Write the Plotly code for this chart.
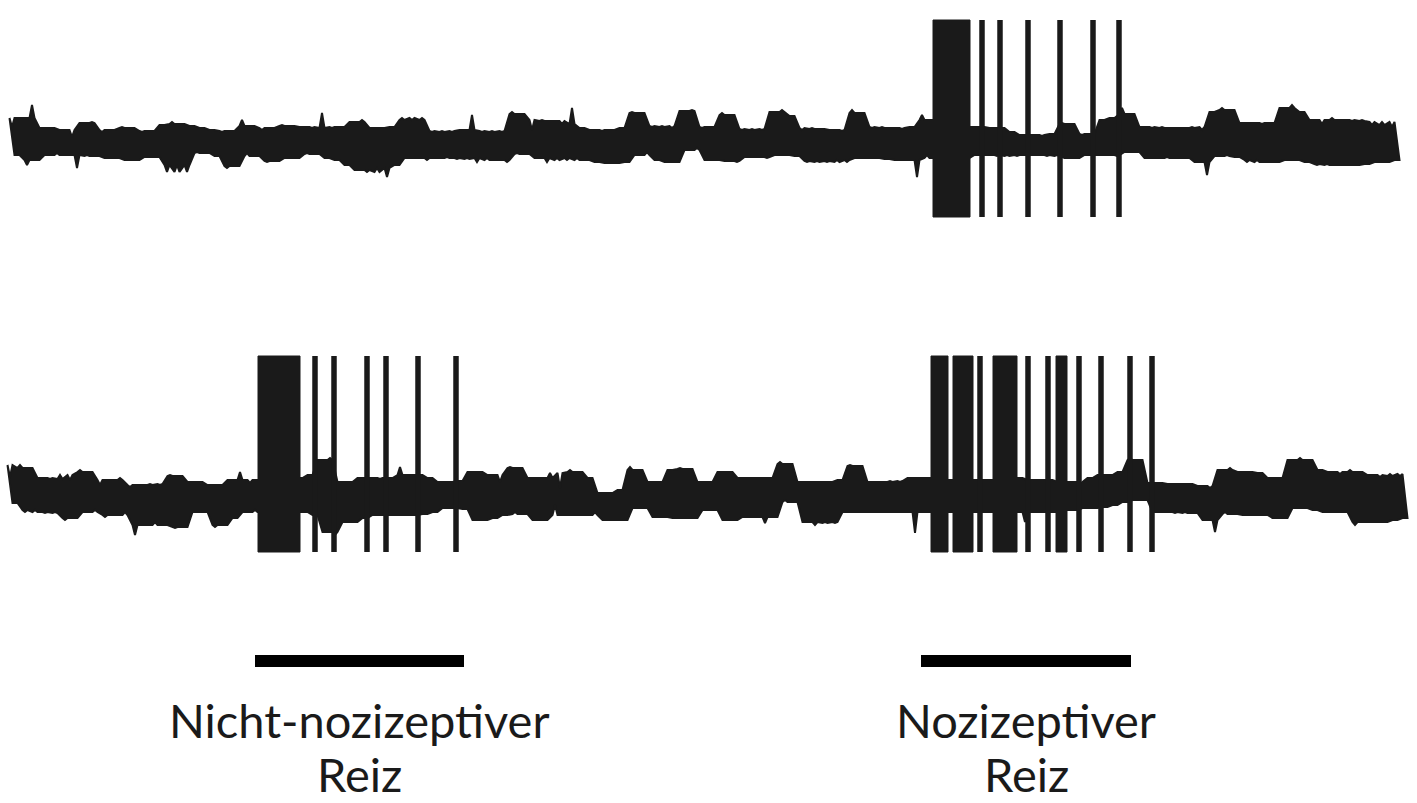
import plotly.graph_objects as go

# ---------------- data (time in ms, potential in µV, arbitrary baseline 0) ----------------
SAMPLE_STEP = 5  # ms between alternating peak/trough samples

top_start = 12
top_peaks = [15, 24, 37, 14, 14, 12, 5, 19, 20, 10,
             12, 15, 14, 10, 11, 17, 20, 18, 16, 14,
             12, 10, 11, 22, 16, 12, 14, 17, 16, 15,
             14, 29, 14, 15, 20, 22, 14, 14, 15, 24,
             22, 24, 10, 11, 10, 12, 27, 10, 11, 10,
             30, 28, 12, 22, 21, 18, 34, 14, 12, 11,
             12, 14, 30, 29, 15, 16, 14, 31, 32, 14,
             15, 29, 27, 12, 13, 12, 30, 32, 26, 12,
             14, 13, 12, 11, 32, 29, 14, 15, 14, 13,
             15, 27, 22, 20, 18, 16, 15, 15, 14, 14,
             10, 7, 7, 6, 8, 19, 18, 7, 8, 22,
             24, 34, 28, 15, 14, 15, 14, 14, 15, 12,
             30, 34, 32, 19, 19, 18, 19, 34, 37, 30,
             22, 18, 24, 22, 21, 22, 17, 20, 15]
top_troughs = [-13, -23, -18, -13, -11, -13, -26, -13, -14, -16,
               -16, -18, -18, -15, -15, -30, -23, -30, -10, -11,
               -14, -26, -24, -11, -14, -20, -19, -16, -16, -11,
               -12, -16, -18, -23, -28, -30, -26, -35, -23, -16,
               -16, -18, -16, -15, -17, -16, -20, -16, -18, -20,
               -11, -12, -16, -20, -16, -18, -16, -18, -20, -21,
               -21, -20, -13, -10, -18, -20, -20, -8, -6, -18,
               -18, -19, -20, -15, -15, -16, -13, -13, -14, -20,
               -19, -20, -18, -20, -16, -16, -16, -17, -18, -18,
               -35, -13, -16, -16, -16, -16, -13, -13, -14, -13,
               -14, -13, -13, -14, -13, -16, -16, -13, -13, -13,
               -14, -10, -10, -16, -16, -15, -16, -16, -20, -33,
               -14, -13, -15, -20, -18, -20, -20, -18, -18, -20,
               -23, -22, -23, -23, -23, -22, -20, -20, -18]

bot_start = 10
bot_peaks = [18, 30, 27, 17, 16, 20, 15, 25, 23, 10,
             15, 17, 8, 10, 11, 10, 20, 19, 13, 13,
             10, 10, 15, 23, 12, 15, 15, 15, 15, 17,
             20, 35, 37, 13, 13, 17, 17, 16, 17, 28,
             20, 20, 17, 13, 13, 14, 23, 23, 20, 13,
             28, 27, 17, 17, 22, 7, 25, 23, 17, 2,
             2, 5, 28, 25, 13, 13, 25, 27, 26, 13,
             13, 23, 23, 17, 17, 17, 17, 33, 31, 13,
             13, 13, 13, 15, 30, 29, 13, 13, 14, 13,
             17, 17, 17, 17, 15, 15, 17, 13, 15, 15,
             17, 17, 15, 15, 15, 13, 13, 10, 17, 20,
             20, 23, 37, 35, 12, 12, 11, 11, 11, 9,
             7, 25, 27, 23, 23, 22, 17, 17, 35, 37,
             35, 25, 23, 21, 25, 23, 20, 18, 21, 19]
bot_troughs = [-8, -17, -15, -18, -17, -25, -23, -17, -15, -22,
               -20, -17, -40, -30, -27, -30, -33, -32, -17, -17,
               -32, -30, -23, -17, -15, -17, -17, -17, -17, -17,
               -20, -37, -40, -27, -27, -23, -20, -20, -20, -20,
               -20, -19, -17, -13, -13, -14, -25, -25, -23, -20,
               -17, -19, -25, -25, -10, -20, -20, -20, -17, -25,
               -25, -25, -13, -13, -22, -22, -23, -23, -23, -15,
               -15, -25, -25, -22, -22, -28, -22, -5, -7, -27,
               -30, -27, -28, -17, -17, -17, -17, -17, -17, -17,
               -38, -17, -17, -17, -15, -17, -17, -17, -17, -17,
               -17, -27, -17, -17, -17, -15, -15, -13, -13, -12,
               -10, -7, -5, -5, -17, -17, -18, -17, -18, -25,
               -37, -17, -19, -20, -20, -20, -23, -23, -13, -13,
               -15, -17, -17, -17, -30, -27, -27, -27, -25, -23]

# action potentials (ms) and high-frequency bursts (start, end ms)
top_spikes = [982, 1000, 1028, 1060, 1093, 1119]
top_bursts = [(933, 970)]
bot_spikes = [315, 334, 367, 386, 418, 456, 980, 1028, 1048, 1079, 1101, 1130, 1152]
bot_bursts = [(258, 300), (931, 948), (953, 973), (993, 1017), (1056, 1067)]
top_spike_amp = (-75, 122)   # spike trough, peak (µV)
bot_spike_amp = (-57, 139)

# stimuli (start ms, end ms, label lines)
stimuli = [(255, 464, ["Nicht-nozizeptiver", "Reiz"]),
           (921, 1131, ["Nozizeptiver", "Reiz"])]

# ---------------- layout constants ----------------
TOP_OFFSET = 0
BOT_OFFSET = -353
STIM_Y = -519
LABEL_Y = [-578, -632]
INK = "#1a1a1a"
HAIR = 2.5  # half-width (ms) of a noise peak drawn on the band edge

fig = go.Figure()


def median3(nb):
    return sorted(nb)[len(nb) // 2]


def edge(xs_c, vals):
    """Band edge: body level between samples, narrow hair at each sample."""
    n = len(vals)
    ex, ey = [], []
    for k in range(n):
        body = median3(vals[max(k - 1, 0):k + 2])
        ex += [xs_c[k] - HAIR, xs_c[k], xs_c[k] + HAIR]
        ey += [body, vals[k], body]
    return ex, ey


def add_trace_band(start, peaks, troughs, offset):
    n = len(peaks)
    up_x = [start + 2 * k * SAMPLE_STEP for k in range(n)]
    lo_x = [start + (2 * k + 1) * SAMPLE_STEP for k in range(n)]
    ux, uy = edge(up_x, peaks)
    lx, ly = edge(lo_x, troughs)
    xs = ux + lx[::-1] + [ux[0]]
    ys = [v + offset for v in uy] + [v + offset for v in ly[::-1]] + [uy[0] + offset]
    fig.add_trace(go.Scatter(x=xs, y=ys, mode="lines", fill="toself", fillcolor=INK,
                             line=dict(color=INK, width=2),
                             hoverinfo="skip", showlegend=False))


def add_spikes(spikes, bursts, amp, offset):
    xs, ys = [], []
    for s in spikes:
        xs += [s, s, None]
        ys += [amp[0] + offset, amp[1] + offset, None]
    fig.add_trace(go.Scatter(x=xs, y=ys, mode="lines",
                             line=dict(color=INK, width=5.5),
                             hoverinfo="skip", showlegend=False))
    for a, b in bursts:
        fig.add_trace(go.Scatter(
            x=[a, b, b, a, a],
            y=[amp[0] + offset, amp[0] + offset, amp[1] + offset, amp[1] + offset, amp[0] + offset],
            mode="lines", fill="toself", fillcolor=INK,
            line=dict(color=INK, width=1), hoverinfo="skip", showlegend=False))


add_trace_band(top_start, top_peaks, top_troughs, TOP_OFFSET)
add_trace_band(bot_start, bot_peaks, bot_troughs, BOT_OFFSET)
add_spikes(top_spikes, top_bursts, top_spike_amp, TOP_OFFSET)
add_spikes(bot_spikes, bot_bursts, bot_spike_amp, BOT_OFFSET)

for a, b, lines in stimuli:
    fig.add_trace(go.Scatter(x=[a, b], y=[STIM_Y, STIM_Y], mode="lines",
                             line=dict(color="black", width=12),
                             hoverinfo="skip", showlegend=False))
    for txt, lyv in zip(lines, LABEL_Y):
        fig.add_annotation(x=(a + b) / 2, y=lyv, xref="x", yref="y", text=txt,
                           showarrow=False, xanchor="center", yanchor="middle",
                           font=dict(family="Lato", size=47, color=INK))

fig.update_layout(
    width=1417, height=803,
    margin=dict(l=0, r=0, t=0, b=0),
    paper_bgcolor="white", plot_bgcolor="white",
    xaxis=dict(range=[0, 1417], visible=False, fixedrange=True),
    yaxis=dict(range=[-661, 142], visible=False, fixedrange=True),
)

# remove the default page margin so the figure sits at the window's top-left corner
fig.write_html("out.html", config={"displayModeBar": False},
               post_script="document.body.style.margin='0';document.body.style.overflow='hidden';")
